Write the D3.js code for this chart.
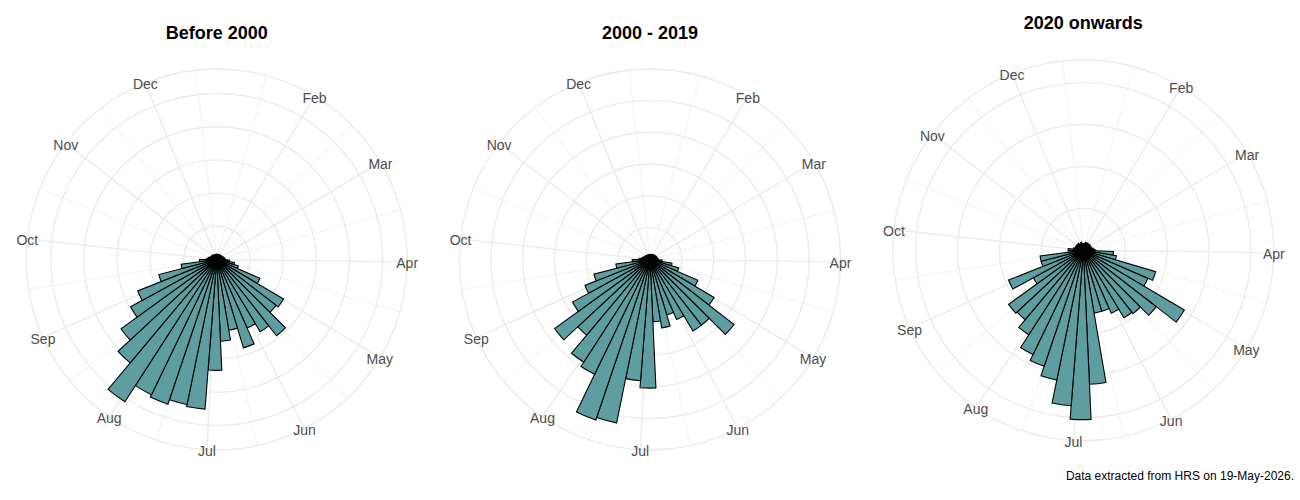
<!DOCTYPE html>
<html>
<head>
<meta charset="utf-8">
<script src="https://cdn.jsdelivr.net/npm/d3@7"></script>
<style>
  html, body { margin: 0; padding: 0; background: #fff; }
  svg { display: block; font-family: "Liberation Sans", Arial, sans-serif; }
</style>
</head>
<body>
<svg id="chart" width="1300" height="500"></svg>
<script>
// ---------------------------------
// Data
// ---------------------------------
const monthLabels = ["Jan", "Feb", "Mar", "Apr", "May", "Jun", "Jul", "Aug", "Sep", "Oct", "Nov", "Dec"];
const monthStartDay = [1, 32, 60, 91, 121, 152, 182, 213, 244, 274, 305, 335];
const nextYearStartDay = 366;

// weekly bins (7 days each) covering the plotted day range
const weekNumber = [1, 2, 3, 4, 5, 6, 7, 8, 9, 10, 11, 12, 13, 14, 15, 16, 17, 18, 19, 20,
    21, 22, 23, 24, 25, 26, 27, 28, 29, 30, 31, 32, 33, 34, 35, 36, 37, 38, 39, 40,
    41, 42, 43, 44, 45, 46, 47, 48, 49, 50, 51];
const binDays = 7;
const dayRange = [1.5, 356.7];

const valuesBefore2000 = [0.8, 0.6, 0.7, 0.8, 0.7, 0.8, 0.9, 0.8, 0.9, 1.0,
    1.1, 1.2, 1.3, 1.9, 2.7, 3.4, 7.1, 11.7, 11.3, 14.6,
    12.7, 11.3, 13.9, 10.8, 12.3, 16.7, 22.6, 22.3, 23.0, 22.6,
    25.5, 20.3, 17.8, 14.8, 12.8, 9.0, 5.4, 2.6, 1.5, 1.3,
    1.1, 1.0, 0.9, 0.8, 0.9, 0.7, 0.8, 0.6, 0.7, 0.8, 0.7];

const values2000to2019 = [0.8, 0.7, 0.7, 0.9, 0.8, 0.9, 0.9, 1.0, 1.0, 1.1,
    1.1, 1.2, 1.3, 1.9, 3.5, 4.7, 8.2, 11.7, 16.7, 13.1,
    13.1, 10.3, 9.1, 10.9, 9.8, 20.2, 19.1, 26.2, 26.6, 20.0,
    19.2, 15.5, 18.5, 13.9, 11.0, 9.1, 5.4, 2.8, 1.7, 1.3,
    1.1, 1.0, 0.9, 0.9, 0.8, 0.8, 0.7, 0.8, 0.7, 0.8, 0.7];

const values2020on = [0.4, 0.4, 0.5, 0.4, 0.5, 0.4, 0.5, 0.5, 0.4, 0.5,
    0.5, 0.6, 0.7, 1.8, 2.0, 4.5, 4.2, 7.0, 5.5, 4.8,
    4.7, 4.1, 3.8, 3.8, 8.0, 10.1, 9.3, 7.9, 7.3, 6.9,
    6.0, 5.4, 5.5, 3.4, 4.8, 2.6, 2.6, 0.9, 0.9, 0.6,
    0.5, 0.5, 0.4, 0.5, 0.4, 0.5, 0.4, 0.4, 0.5, 0.4, 0.4];

const ringBreaksBefore2000 = [5, 10, 15, 20, 25];
const ringBreaks2000to2019 = [5, 10, 15, 20, 25];
const ringBreaks2020on = [2.5, 5, 7.5, 10];

const panelTitles = ["Before 2000", "2000 - 2019", "2020 onwards"];
const captionText = "Data extracted from HRS on 19-May-2026.";

// ---------------------------------
// Layout
// ---------------------------------
const R_OUT = 190.5;                 // outer circle (0.45 of panel)
const R_IN = R_OUT * 0.4 / 0.45;     // bar area (0.4 of panel)
const panelCx = [216.7, 650, 1083.3];
const panelCy = [259.5, 259.5, 250.3];
const titleBaseline = [38.5, 38.5, 29.3];

const GRID = "#EBEBEB";
const BAR_FILL = "#5F9EA0";

const panels = [
    { title: panelTitles[0], values: valuesBefore2000, rings: ringBreaksBefore2000 },
    { title: panelTitles[1], values: values2000to2019, rings: ringBreaks2000to2019 },
    { title: panelTitles[2], values: values2020on, rings: ringBreaks2020on }
];

const svg = d3.select("#chart");

panels.forEach((p, i) => drawRose(p, panelCx[i], panelCy[i], titleBaseline[i]));

svg.append("text")
    .attr("x", 1294)
    .attr("y", 480)
    .attr("text-anchor", "end")
    .attr("fill", "#000")
    .style("font-size", "12px")
    .text(captionText);

// --- one polar bar panel ---
function drawRose(panel, cx, cy, titleY) {
    const g = svg.append("g").attr("transform", `translate(${cx},${cy})`);

    const theta = d3.scaleLinear().domain(dayRange).range([0, 2 * Math.PI]);
    const r = d3.scaleLinear().domain([0, d3.max(panel.values)]).range([0, R_IN]);

    const inRange = d => d >= dayRange[0] && d <= dayRange[1];
    const majors = monthStartDay
        .map((d, i) => ({ day: d, label: monthLabels[i] }))
        .filter(m => inRange(m.day));
    const allStarts = monthStartDay.concat([nextYearStartDay]);
    const minors = d3.pairs(allStarts).map(([a, b]) => (a + b) / 2).filter(inRange);

    const px = (a, rad) => rad * Math.sin(a);
    const py = (a, rad) => -rad * Math.cos(a);

    // minor theta grid
    g.selectAll(".minor-theta")
        .data(minors)
        .enter()
        .append("line")
        .attr("x1", 0).attr("y1", 0)
        .attr("x2", d => px(theta(d), R_OUT))
        .attr("y2", d => py(theta(d), R_OUT))
        .attr("stroke", GRID)
        .attr("stroke-width", 0.7);

    // major theta grid
    g.selectAll(".major-theta")
        .data(majors)
        .enter()
        .append("line")
        .attr("x1", 0).attr("y1", 0)
        .attr("x2", d => px(theta(d.day), R_OUT))
        .attr("y2", d => py(theta(d.day), R_OUT))
        .attr("stroke", GRID)
        .attr("stroke-width", 1.4);

    // radial rings + outer circle
    g.selectAll(".ring")
        .data(panel.rings.map(v => r(v)).concat([R_OUT]))
        .enter()
        .append("circle")
        .attr("r", d => d)
        .attr("fill", "none")
        .attr("stroke", GRID)
        .attr("stroke-width", 1.4);

    // bars
    const bins = weekNumber.map((w, i) => ({
        start: dayRange[0] + (w - 1) * binDays,
        end: dayRange[0] + w * binDays,
        value: panel.values[i]
    }));

    const arc = d3.arc()
        .innerRadius(0)
        .outerRadius(d => r(d.value))
        .startAngle(d => theta(d.start))
        .endAngle(d => theta(d.end));

    g.selectAll(".bar")
        .data(bins)
        .enter()
        .append("path")
        .attr("d", arc)
        .attr("fill", BAR_FILL)
        .attr("stroke", "#000")
        .attr("stroke-width", 1.1)
        .attr("stroke-linejoin", "miter");

    // month labels
    g.selectAll(".month")
        .data(majors)
        .enter()
        .append("text")
        .attr("x", d => px(theta(d.day), R_OUT))
        .attr("y", d => py(theta(d.day), R_OUT) + 1.5)
        .attr("text-anchor", "middle")
        .attr("dominant-baseline", "central")
        .attr("fill", "#4D4D4D")
        .style("font-size", "14px")
        .text(d => d.label);

    // title
    svg.append("text")
        .attr("x", cx)
        .attr("y", titleY)
        .attr("text-anchor", "middle")
        .attr("fill", "#000")
        .style("font-size", "18px")
        .style("font-weight", "bold")
        .text(panel.title);
}
</script>
</body>
</html>
